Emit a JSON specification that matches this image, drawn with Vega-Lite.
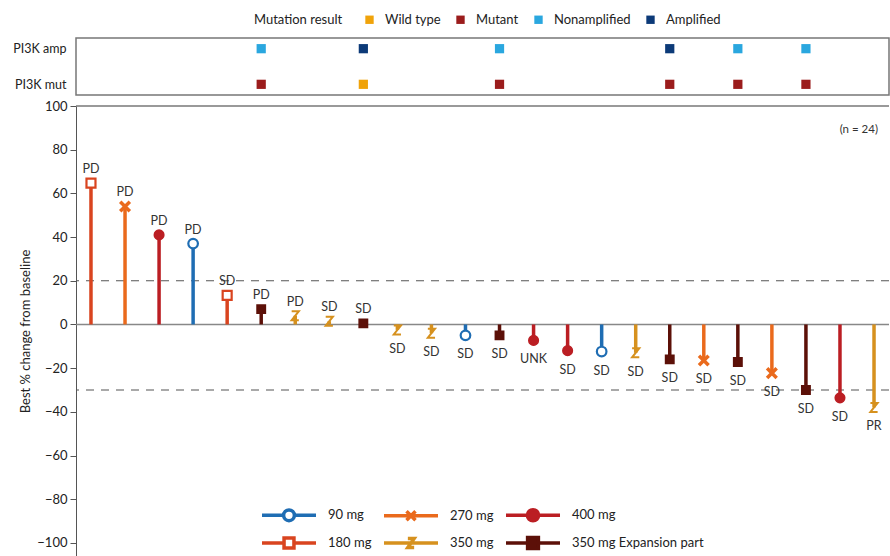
{
  "$schema": "https://vega.github.io/schema/vega-lite/v6.json",
  "padding": {"left": 12, "top": 12, "right": 0, "bottom": 0},
  "spacing": 4,
  "config": {"font": "Lato", "view": {"stroke": null}},
  "resolve": {"scale": {"color": "independent"}, "legend": {"color": "independent"}},
  "datasets": {
    "resp": [
      {"pid": 1, "value": 64.7, "dose": "180 mg", "resp": "PD"},
      {"pid": 2, "value": 54, "dose": "270 mg", "resp": "PD"},
      {"pid": 3, "value": 41, "dose": "400 mg", "resp": "PD"},
      {"pid": 4, "value": 37, "dose": "90 mg", "resp": "PD"},
      {"pid": 5, "value": 13.3, "dose": "180 mg", "resp": "SD"},
      {"pid": 6, "value": 7, "dose": "350 mg Expansion part", "resp": "PD"},
      {"pid": 7, "value": 4, "dose": "350 mg", "resp": "PD"},
      {"pid": 8, "value": 1.5, "dose": "350 mg", "resp": "SD"},
      {"pid": 9, "value": 0.5, "dose": "350 mg Expansion part", "resp": "SD"},
      {"pid": 10, "value": -2.5, "dose": "350 mg", "resp": "SD"},
      {"pid": 11, "value": -4, "dose": "350 mg", "resp": "SD"},
      {"pid": 12, "value": -5, "dose": "90 mg", "resp": "SD"},
      {"pid": 13, "value": -5, "dose": "350 mg Expansion part", "resp": "SD"},
      {"pid": 14, "value": -7.3, "dose": "400 mg", "resp": "UNK"},
      {"pid": 15, "value": -12, "dose": "400 mg", "resp": "SD"},
      {"pid": 16, "value": -12.4, "dose": "90 mg", "resp": "SD"},
      {"pid": 17, "value": -13, "dose": "350 mg", "resp": "SD"},
      {"pid": 18, "value": -16, "dose": "350 mg Expansion part", "resp": "SD"},
      {"pid": 19, "value": -16.5, "dose": "270 mg", "resp": "SD"},
      {"pid": 20, "value": -17.2, "dose": "350 mg Expansion part", "resp": "SD"},
      {"pid": 21, "value": -22.3, "dose": "270 mg", "resp": "SD"},
      {"pid": 22, "value": -30, "dose": "350 mg Expansion part", "resp": "SD"},
      {"pid": 23, "value": -33.6, "dose": "400 mg", "resp": "SD"},
      {"pid": 24, "value": -38, "dose": "350 mg", "resp": "PR"}
    ],
    "pi3k": [
      {"pid": 6, "row": "PI3K amp", "result": "Nonamplified"},
      {"pid": 6, "row": "PI3K mut", "result": "Mutant"},
      {"pid": 9, "row": "PI3K amp", "result": "Amplified"},
      {"pid": 9, "row": "PI3K mut", "result": "Wild type"},
      {"pid": 13, "row": "PI3K amp", "result": "Nonamplified"},
      {"pid": 13, "row": "PI3K mut", "result": "Mutant"},
      {"pid": 18, "row": "PI3K amp", "result": "Amplified"},
      {"pid": 18, "row": "PI3K mut", "result": "Mutant"},
      {"pid": 20, "row": "PI3K amp", "result": "Nonamplified"},
      {"pid": 20, "row": "PI3K mut", "result": "Mutant"},
      {"pid": 22, "row": "PI3K amp", "result": "Nonamplified"},
      {"pid": 22, "row": "PI3K mut", "result": "Mutant"}
    ],
    "refs": [{"y": 20}, {"y": -30}],
    "one": [{"t": "(n = 24)"}]
  },
  "vconcat": [
    {
      "width": 813,
      "height": 57,
      "data": {"name": "pi3k"},
      "view": {"stroke": "#777", "strokeWidth": 1.5},
      "mark": {"type": "point", "shape": "square", "filled": true, "size": 85, "opacity": 1},
      "encoding": {
        "x": {"field": "pid", "type": "ordinal", "scale": {"type": "point", "domain": [1,2,3,4,5,6,7,8,9,10,11,12,13,14,15,16,17,18,19,20,21,22,23,24], "padding": 0.44}, "axis": null},
        "y": {"field": "row", "type": "nominal", "scale": {"type": "point", "domain": ["PI3K amp", "PI3K mut"], "padding": 0.3}, "axis": {"title": null, "ticks": false, "domain": false, "labelFontSize": 12.5, "labelPadding": 10, "labelColor": "#222"}},
        "color": {"field": "result", "type": "nominal",
          "scale": {"domain": ["Wild type", "Mutant", "Nonamplified", "Amplified"], "range": ["#f0a30a", "#9b1c1c", "#2aa7df", "#0c3a78"]},
          "legend": {"title": "Mutation result", "orient": "none", "legendX": 178, "legendY": -25, "direction": "horizontal", "titleOrient": "left", "symbolType": "square", "symbolSize": 70, "labelFontSize": 13, "labelColor": "#222", "titleFontSize": 13, "titleColor": "#222", "titleFontWeight": "normal", "columnPadding": 13, "labelOffset": 9, "titlePadding": 20, "padding": 0}}
      }
    },
    {
      "width": 813,
      "height": 450,
      "layer": [
        {
          "data": {"values": [{}]},
          "mark": {"type": "rule", "color": "#777", "strokeWidth": 1.5},
          "encoding": {"y": {"datum": 100, "type": "quantitative"}}
        },
        {
          "data": {"values": [{}]},
          "mark": {"type": "rule", "color": "#888", "strokeWidth": 1.5},
          "encoding": {"y": {"datum": 0, "type": "quantitative"}}
        },
        {
          "data": {"name": "refs"},
          "mark": {"type": "rule", "color": "#555", "strokeWidth": 1.2, "strokeDash": [8, 7]},
          "encoding": {"y": {"field": "y", "type": "quantitative"}}
        },
        {
          "data": {"name": "resp"},
          "mark": {"type": "rule", "strokeWidth": 3.5},
          "encoding": {
            "x": {"field": "pid", "type": "ordinal", "scale": {"type": "point", "domain": [1,2,3,4,5,6,7,8,9,10,11,12,13,14,15,16,17,18,19,20,21,22,23,24], "padding": 0.44}, "axis": null},
            "y": {"field": "value", "type": "quantitative", "scale": {"domain": [-106, 100], "nice": false, "zero": false},
              "axis": {"title": "Best % change from baseline", "titleFontSize": 13, "titleFontWeight": "normal", "titleColor": "#222", "titlePadding": 4, "values": [-100, -80, -60, -40, -20, 0, 20, 40, 60, 80, 100], "grid": false, "labelFontSize": 13, "labelColor": "#222", "tickSize": 6, "tickColor": "#555", "domainColor": "#555", "labelPadding": 3}},
            "y2": {"datum": 0},
            "color": {"field": "dose", "type": "nominal", "scale": {"domain": ["90 mg", "180 mg", "270 mg", "350 mg", "400 mg", "350 mg Expansion part"], "range": ["#1f6db3", "#d9441f", "#ea6a1c", "#d6911e", "#bb1e23", "#5c1008"]}, "legend": null}
          }
        },
        {
          "data": {"name": "resp"},
          "transform": [{"filter": "datum.dose === '90 mg'"}],
          "mark": {"type": "point", "shape": "M-0.8,0A0.8,0.8 0 1,1 0.8,0A0.8,0.8 0 1,1 -0.8,0Z", "size": 144, "filled": true, "fill": "#ffffff", "stroke": "#1f6db3", "strokeWidth": 2.2, "opacity": 1},
          "encoding": {"x": {"field": "pid", "type": "ordinal"}, "y": {"field": "value", "type": "quantitative"}}
        },
        {
          "data": {"name": "resp"},
          "transform": [{"filter": "datum.dose === '180 mg'"}],
          "mark": {"type": "point", "shape": "M-0.75,-0.75H0.75V0.75H-0.75Z", "size": 144, "filled": true, "fill": "#ffffff", "stroke": "#d9441f", "strokeWidth": 2.2, "opacity": 1},
          "encoding": {"x": {"field": "pid", "type": "ordinal"}, "y": {"field": "value", "type": "quantitative"}}
        },
        {
          "data": {"name": "resp"},
          "transform": [{"filter": "datum.dose === '270 mg'"}],
          "mark": {"type": "point", "shape": "M-0.8,-0.8L0.8,0.8M-0.8,0.8L0.8,-0.8", "size": 144, "filled": false, "stroke": "#ea6a1c", "strokeWidth": 3.5, "opacity": 1},
          "encoding": {"x": {"field": "pid", "type": "ordinal"}, "y": {"field": "value", "type": "quantitative"}}
        },
        {
          "data": {"name": "resp"},
          "transform": [{"filter": "datum.dose === '350 mg'"}],
          "mark": {"type": "point", "shape": "M-0.6,-0.75H0.6L-0.6,0.75H0.6", "size": 144, "filled": false, "stroke": "#d6911e", "strokeWidth": 2, "opacity": 1},
          "encoding": {"x": {"field": "pid", "type": "ordinal"}, "y": {"field": "value", "type": "quantitative"}}
        },
        {
          "data": {"name": "resp"},
          "transform": [{"filter": "datum.dose === '400 mg'"}],
          "mark": {"type": "point", "shape": "M-0.8,0A0.8,0.8 0 1,1 0.8,0A0.8,0.8 0 1,1 -0.8,0Z", "size": 144, "filled": true, "fill": "#bb1e23", "stroke": "#bb1e23", "strokeWidth": 1.5, "opacity": 1},
          "encoding": {"x": {"field": "pid", "type": "ordinal"}, "y": {"field": "value", "type": "quantitative"}}
        },
        {
          "data": {"name": "resp"},
          "transform": [{"filter": "datum.dose === '350 mg Expansion part'"}],
          "mark": {"type": "point", "shape": "M-0.7,-0.7H0.7V0.7H-0.7Z", "size": 144, "filled": true, "fill": "#5c1008", "stroke": "#5c1008", "strokeWidth": 1.5, "opacity": 1},
          "encoding": {"x": {"field": "pid", "type": "ordinal"}, "y": {"field": "value", "type": "quantitative"}}
        },
        {
          "data": {"name": "resp"},
          "transform": [{"filter": "false"}],
          "mark": {"type": "point", "size": 324, "strokeWidth": 3.5, "filled": true, "opacity": 1},
          "encoding": {
            "stroke": {"field": "dose", "type": "nominal", "scale": {"domain": ["90 mg", "180 mg", "270 mg", "350 mg", "400 mg", "350 mg Expansion part"], "range": ["#1f6db3", "#d9441f", "#ea6a1c", "#d6911e", "#bb1e23", "#5c1008"]},
              "legend": {"title": null, "orient": "none", "legendX": 202, "legendY": 466, "columns": 3, "labelFontSize": 13, "labelColor": "#222", "labelOffset": 28, "columnPadding": 5, "rowPadding": 2, "symbolStrokeWidth": 3.5, "symbolSize": 324, "padding": 0}},
            "fill": {"field": "dose", "type": "nominal", "scale": {"domain": ["90 mg", "180 mg", "270 mg", "350 mg", "400 mg", "350 mg Expansion part"], "range": ["#ffffff", "#ffffff", "transparent", "transparent", "#bb1e23", "#5c1008"]}},
            "shape": {"field": "dose", "type": "nominal", "scale": {"domain": ["90 mg", "180 mg", "270 mg", "350 mg", "400 mg", "350 mg Expansion part"], "range": [
              "M-3,0H-0.6M0.6,0H3M-0.6,0A0.6,0.6 0 1,1 0.6,0A0.6,0.6 0 1,1 -0.6,0Z",
              "M-3,0H-0.55M0.55,0H3M-0.55,-0.55H0.55V0.55H-0.55Z",
              "M-3,0H3M-0.5,-0.5L0.5,0.5M-0.5,0.5L0.5,-0.5",
              "M-3,0H3M-0.35,-0.5H0.35L-0.35,0.5H0.35",
              "M-3,0H3M-0.62,0A0.62,0.62 0 1,1 0.62,0A0.62,0.62 0 1,1 -0.62,0Z",
              "M-3,0H3M-0.6,-0.6H0.6V0.6H-0.6Z"]}}
          }
        },
        {
          "data": {"name": "resp"},
          "transform": [{"filter": "datum.value >= 0"}],
          "mark": {"type": "text", "dy": -14, "baseline": "middle", "fontSize": 12.5, "color": "#333"},
          "encoding": {
            "x": {"field": "pid", "type": "ordinal"},
            "y": {"field": "value", "type": "quantitative"},
            "text": {"field": "resp"}
          }
        },
        {
          "data": {"name": "resp"},
          "transform": [{"filter": "datum.value < 0"}],
          "mark": {"type": "text", "dy": 19, "baseline": "middle", "fontSize": 12.5, "color": "#333"},
          "encoding": {
            "x": {"field": "pid", "type": "ordinal"},
            "y": {"field": "value", "type": "quantitative"},
            "text": {"field": "resp"}
          }
        },
        {
          "data": {"name": "one"},
          "mark": {"type": "text", "align": "right", "baseline": "middle", "dx": 4, "fontSize": 11.5, "color": "#333"},
          "encoding": {
            "x": {"datum": 24, "type": "ordinal"},
            "y": {"datum": 89, "type": "quantitative"},
            "text": {"field": "t"}
          }
        }
      ]
    }
  ]
}
